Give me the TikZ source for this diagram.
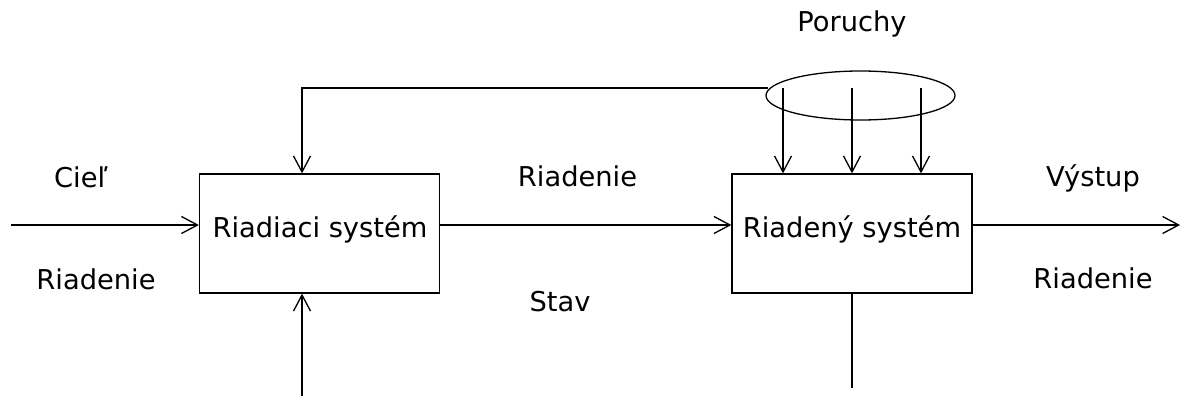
\documentclass[tikz,border=0pt]{standalone}
\usepackage{fontspec}
\setmainfont{DejaVu Sans}
\usetikzlibrary{arrows.meta,shapes.geometric}
\begin{document}
\begin{tikzpicture}[x=1pt,y=-1pt,
  line width=1.3pt,
  arr/.style={-{Straight Barb[length=16pt,width=17pt,line width=1.3pt]}},
  box/.style={draw,rectangle,minimum width=240pt,minimum height=119pt,inner sep=0pt},
  lbl/.style={anchor=base,inner sep=0pt,font=\fontsize{27.3}{30}\selectfont}]
\useasboundingbox (0,0) rectangle (1181,396);
% boxes
\node[box] (rs) at (319.5,233.5) {};
\node[box] (rd) at (852,233.5) {};
\node[draw,ellipse,minimum width=189pt,minimum height=49pt,inner sep=0pt] (ell) at (860.5,95.5) {};
% box labels
\node[lbl] (rsl) at (320,237) {Riadiaci systém};
\node[lbl] (rdl) at (852,237) {Riadený systém};
% other labels
\node[lbl] (ciel) at (81,187) {Cieľ};
\node[lbl] (rl) at (96,289) {Riadenie};
\node[lbl] (rm) at (577.5,186) {Riadenie};
\node[lbl] (stav) at (560,311) {Stav};
\node[lbl] (por) at (852,32) {Poruchy};
\node[lbl] (vys) at (1093,186) {Výstup};
\node[lbl] (rr) at (1093,288) {Riadenie};
% coordinates
\coordinate (in) at (11,225);
\coordinate (out) at (1180,225);
\coordinate (fb) at (768,88);
\coordinate (fbc) at (302,88);
\coordinate (d1) at (783,88);
\coordinate (d2) at (852,88);
\coordinate (d3) at (921,88);
\coordinate (bot1) at (302,396);
\coordinate (bot2) at (852,388);
% connectors
\draw[arr] (in) -- (in -| rs.west);
\draw[arr] (rs.east |- in) -- (rd.west |- in);
\draw[arr] (rd.east |- in) -- (out);
\draw[arr] (fb) -- (fbc) -- (fbc |- rs.north);
\draw[arr] (d1) -- (d1 |- rd.north);
\draw[arr] (d2) -- (d2 |- rd.north);
\draw[arr] (d3) -- (d3 |- rd.north);
\draw[arr] (bot1) -- (bot1 |- rs.south);
\draw (rd.south) -- (bot2);
\end{tikzpicture}
\end{document}
